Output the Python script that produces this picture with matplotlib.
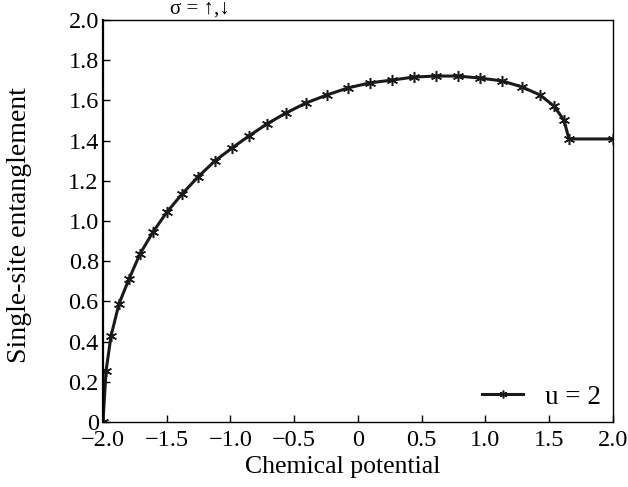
import matplotlib
matplotlib.use("Agg")
import matplotlib.pyplot as plt

# values
mu = [-2.0, -1.976, -1.937, -1.875, -1.796, -1.71, -1.608, -1.498, -1.38, -1.255,
      -1.122, -0.988, -0.855, -0.714, -0.565, -0.408, -0.243, -0.078, 0.094, 0.267,
      0.439, 0.612, 0.784, 0.957, 1.129, 1.286, 1.427, 1.537, 1.616, 1.655, 2.0]
ent = [0.0, 0.254, 0.428, 0.587, 0.711, 0.836, 0.945, 1.045, 1.134, 1.219,
       1.299, 1.363, 1.423, 1.483, 1.537, 1.587, 1.627, 1.662, 1.687, 1.701,
       1.716, 1.721, 1.721, 1.711, 1.697, 1.667, 1.627, 1.572, 1.502, 1.408, 1.408]

xticks = [-2.0, -1.5, -1.0, -0.5, 0.0, 0.5, 1.0, 1.5, 2.0]
xlabels = ["\u22122.0", "\u22121.5", "\u22121.0", "\u22120.5", "0", "0.5", "1.0", "1.5", "2.0"]
yticks = [0.0, 0.2, 0.4, 0.6, 0.8, 1.0, 1.2, 1.4, 1.6, 1.8, 2.0]
ylabels = ["0", "0.2", "0.4", "0.6", "0.8", "1.0", "1.2", "1.4", "1.6", "1.8", "2.0"]

plt.rcParams["font.family"] = ["Liberation Serif", "DejaVu Serif"]

fig = plt.figure(figsize=(6.28, 4.87), dpi=100)
ax = fig.add_axes([0.164, 0.1335, 0.812, 0.8255])

ax.plot(mu, ent, color="#1a1a1a", linewidth=2.2, marker=(6, 2, 0), markersize=8,
        markeredgewidth=1.1, label="u = 2")

ax.set_xlim(-2.0, 2.0)
ax.set_ylim(0.0, 2.0)
ax.set_xticks(xticks)
ax.set_xticklabels(xlabels)
ax.set_yticks(yticks)
ax.set_yticklabels(ylabels)
ax.tick_params(direction="in", length=5, width=1, labelsize=17.5)
ax.tick_params(axis="x", pad=6)
ax.tick_params(axis="y", pad=3)
for s in ax.spines.values():
    s.set_linewidth(1.0)
ax.spines["left"].set_linewidth(1.6)

ax.set_xlabel("Chemical potential", fontsize=18.5)
ax.set_ylabel("Single-site entanglement", fontsize=20)
ax.xaxis.set_label_coords(0.47, -0.085)
ax.yaxis.set_label_coords(-0.14, 0.49)

ax.legend(loc="lower right", frameon=False, fontsize=19.5, handlelength=1.5,
          markerscale=0.7, borderaxespad=0.05, handletextpad=0.8)

fig.text(0.318, 0.982, "\u03c3 = \u2191,\u2193", fontsize=15, ha="center", va="center")

fig.savefig("out.png", dpi=100)
